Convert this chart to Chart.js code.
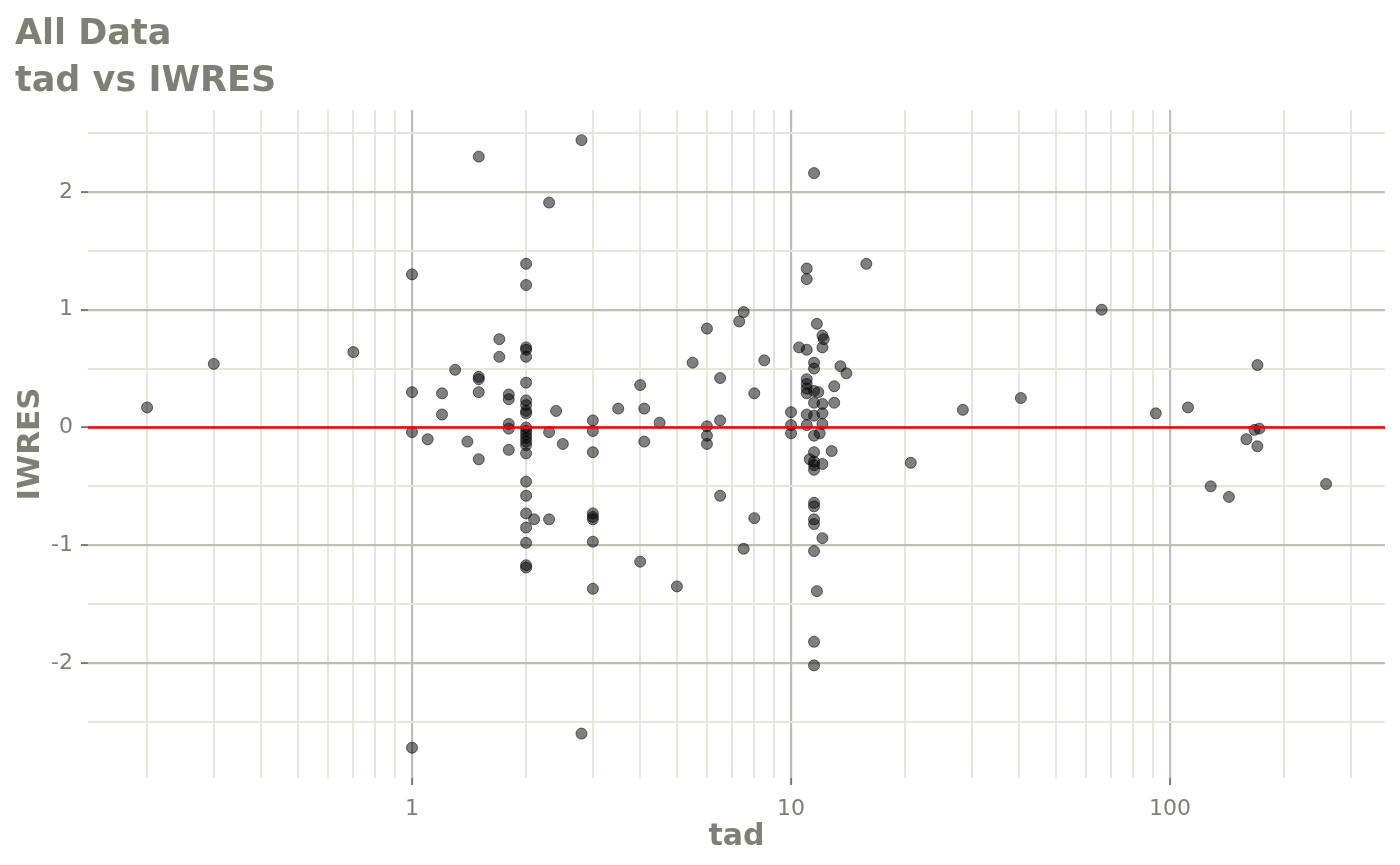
<!DOCTYPE html>
<html>
<head>
<meta charset="utf-8">
<script src="https://cdn.jsdelivr.net/npm/chart.js@4.4.1/dist/chart.umd.min.js"></script>
<style>
  html, body { margin: 0; padding: 0; background: #ffffff; }
  #wrap { width: 1400px; height: 865px; }
</style>
</head>
<body>
<div id="wrap"><canvas id="chart" width="1400" height="865"></canvas></div>
<script>
'use strict';

// time after dose
const tad = [
    0.2, 0.3, 0.7, 1, 1, 1, 1, 1.1, 1.2, 1.2, 1.3, 1.4,
    1.5, 1.5, 1.5, 1.5, 1.5, 1.7, 1.7, 1.8, 1.8, 1.8, 1.8, 1.8,
    2, 2, 2, 2, 2, 2, 2, 2, 2, 2, 2, 2, 2, 2, 2, 2, 2, 2, 2, 2, 2, 2, 2, 2,
    2.1, 2.3, 2.3, 2.3, 2.4, 2.5, 2.8, 2.8,
    3, 3, 3, 3, 3, 3, 3, 3,
    3.5, 4, 4, 4.1, 4.1, 4.5, 5, 5.5, 6, 6, 6, 6, 6.5, 6.5, 6.5,
    7.3, 7.5, 7.5, 8, 8, 8.5, 10, 10, 10, 10.5,
    11, 11, 11, 11, 11, 11, 11, 11, 11, 11.2,
    11.5, 11.5, 11.5, 11.5, 11.5, 11.5, 11.5, 11.5, 11.5, 11.5, 11.5, 11.5, 11.5, 11.5, 11.5, 11.5, 11.5, 11.5,
    11.7, 11.7, 11.8, 11.9,
    12.1, 12.1, 12.1, 12.1, 12.1, 12.1, 12.1, 12.2, 12.8, 13, 13, 13.5, 14, 15.8,
    20.7, 28.4, 40.4, 66, 91.7, 111.5, 128, 143, 159, 167, 170, 170, 172, 258
];

// individual weighted residuals, same order as tad
const iwres = [
    0.17, 0.54, 0.64, 1.30, 0.30, -0.04, -2.72, -0.10, 0.29, 0.11, 0.49, -0.12,
    2.30, 0.43, 0.41, 0.30, -0.27, 0.75, 0.60, 0.28, 0.24, 0.03, -0.01, -0.19,
    1.39, 1.21, 0.68, 0.66, 0.60, 0.38, 0.23, 0.19, 0.14, 0.12, 0.00, -0.03, -0.06, -0.09, -0.12, -0.15,
    -0.22, -0.46, -0.58, -0.73, -0.85, -0.98, -1.17, -1.19,
    -0.78, 1.91, -0.04, -0.78, 0.14, -0.14, 2.44, -2.60,
    0.06, -0.03, -0.21, -0.73, -0.76, -0.78, -0.97, -1.37,
    0.16, 0.36, -1.14, 0.16, -0.12, 0.04, -1.35, 0.55, 0.84, 0.01, -0.07, -0.14, 0.42, 0.06, -0.58,
    0.90, 0.98, -1.03, 0.29, -0.77, 0.57, 0.13, 0.02, -0.05, 0.68,
    1.35, 1.26, 0.66, 0.41, 0.37, 0.33, 0.29, 0.11, 0.02, -0.27,
    2.16, 0.55, 0.50, 0.31, 0.21, 0.10, -0.07, -0.21, -0.29, -0.32, -0.36, -0.64, -0.67, -0.78, -0.82, -1.05, -1.82, -2.02,
    0.88, -1.39, 0.30, -0.05,
    0.78, 0.68, 0.20, 0.12, 0.03, -0.31, -0.94, 0.75, -0.20, 0.35, 0.21, 0.52, 0.46, 1.39,
    -0.30, 0.15, 0.25, 1.00, 0.12, 0.17, -0.50, -0.59, -0.10, -0.02, 0.53, -0.16, -0.01, -0.48
];

// axis ranges and gridline positions
const xRange = [0.1397, 369];
const yRange = [-2.977, 2.696];
const xTicks = [0.2, 0.3, 0.4, 0.5, 0.6, 0.7, 0.8, 0.9, 1, 2, 3, 4, 5, 6, 7, 8, 9,
    10, 20, 30, 40, 50, 60, 70, 80, 90, 100, 200, 300];
const xMajor = [1, 10, 100];
const yTicks = [-2.5, -2, -1.5, -1, -0.5, 0, 0.5, 1, 1.5, 2, 2.5];
const yMajor = [-2, -1, 0, 1, 2];
const zeroLine = [0, 0];

const textGrey = '#7f7f75';
const majorGrid = '#bdbdb1';
const minorGrid = '#e7e7d9';
const fontFamily = "'DejaVu Sans', sans-serif";

const points = tad.map((t, i) => ({ x: t, y: iwres[i] }));
const refLine = xRange.map((x, i) => ({ x: x, y: zeroLine[i] }));

const isMajor = (list, v) => list.some((m) => Math.abs(m - v) < 1e-9);

new Chart(document.getElementById('chart').getContext('2d'), {
    type: 'scatter',
    data: {
        datasets: [
            {
                type: 'line',
                data: refLine,
                borderColor: '#ff0000',
                borderWidth: 2.6,
                pointRadius: 0,
                fill: false,
                order: 0,
            },
            {
                data: points,
                backgroundColor: 'rgba(0, 0, 0, 0.5)',
                borderColor: 'rgba(0, 0, 0, 0.55)',
                borderWidth: 1,
                pointRadius: 5.5,
                order: 1,
            },
        ],
    },
    options: {
        responsive: false,
        animation: false,
        layout: { padding: { left: 15, right: 15, top: 0, bottom: 0 } },
        plugins: {
            legend: { display: false },
            tooltip: { enabled: false },
            title: {
                display: true,
                align: 'start',
                text: ['All Data', 'tad vs IWRES'],
                color: textGrey,
                font: { family: fontFamily, size: 35, weight: 'bold', lineHeight: 1.343 },
                padding: { top: 11.5, bottom: 4.5 },
            },
        },
        scales: {
            x: {
                type: 'logarithmic',
                min: xRange[0],
                max: xRange[1],
                afterBuildTicks: (scale) => {
                    scale.ticks = xTicks.map((v) => ({ value: v }));
                },
                afterFit: (scale) => {
                    scale.height = 87;
                },
                border: { display: false },
                grid: {
                    color: (ctx) => (ctx.tick && isMajor(xMajor, ctx.tick.value) ? majorGrid : minorGrid),
                    lineWidth: (ctx) => (ctx.tick && isMajor(xMajor, ctx.tick.value) ? 2.2 : 2),
                    tickColor: (ctx) => (ctx.tick && isMajor(xMajor, ctx.tick.value) ? '#7a7a72' : 'rgba(0,0,0,0)'),
                    tickWidth: 2,
                    tickLength: 7,
                },
                ticks: {
                    autoSkip: false,
                    maxRotation: 0,
                    padding: 11,
                    color: textGrey,
                    font: { family: fontFamily, size: 22 },
                    callback: (value) => (isMajor(xMajor, value) ? String(value) : ''),
                },
                title: {
                    display: true,
                    text: 'tad',
                    color: textGrey,
                    font: { family: fontFamily, size: 30, weight: 'bold', lineHeight: 1 },
                    padding: { top: 0, bottom: 13 },
                },
            },
            y: {
                type: 'linear',
                min: yRange[0],
                max: yRange[1],
                afterBuildTicks: (scale) => {
                    scale.ticks = yTicks.map((v) => ({ value: v }));
                },
                afterFit: (scale) => {
                    scale.width = 73;
                },
                border: { display: false },
                grid: {
                    color: (ctx) => (ctx.tick && isMajor(yMajor, ctx.tick.value) ? majorGrid : minorGrid),
                    lineWidth: (ctx) => (ctx.tick && isMajor(yMajor, ctx.tick.value) ? 2.2 : 2),
                    tickColor: (ctx) => (ctx.tick && isMajor(yMajor, ctx.tick.value) ? '#7a7a72' : 'rgba(0,0,0,0)'),
                    tickWidth: 2,
                    tickLength: 7,
                },
                ticks: {
                    autoSkip: false,
                    padding: 8,
                    color: textGrey,
                    font: { family: fontFamily, size: 22 },
                    callback: (value) => (isMajor(yMajor, value) ? String(value) : ''),
                },
                title: {
                    display: true,
                    text: 'IWRES',
                    color: textGrey,
                    font: { family: fontFamily, size: 31, weight: 'bold', lineHeight: 1 },
                    padding: { top: 0, bottom: 0 },
                },
            },
        },
    },
});
</script>
</body>
</html>
